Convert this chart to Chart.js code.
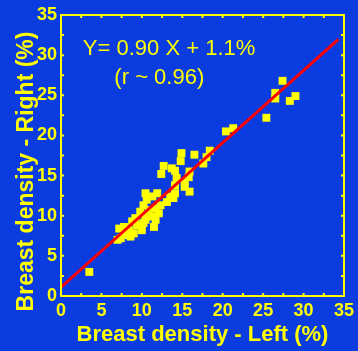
<!DOCTYPE html>
<html>
<head>
<meta charset="utf-8">
<script src="https://cdn.jsdelivr.net/npm/chart.js@4/dist/chart.umd.min.js"></script>
<style>
  html, body { margin: 0; padding: 0; background: #0b3ce0; }
  #wrap { width: 358px; height: 351px; }
</style>
</head>
<body>
<div id="wrap"><canvas id="c" width="358" height="351"></canvas></div>
<script>
// left vs right breast density (%)
var leftPct  = [3.5, 7.0, 7.4, 8.0, 8.6, 9.0, 8.4, 7.2, 7.8, 9.4, 8.8, 9.2, 10.2, 10.45, 11.5,
                9.8, 10.45, 11.3, 12.1, 10.85, 11.7, 10.2, 12.3, 10.6, 11.3, 10.45, 11.9, 13.1, 13.9,
                14.1, 13.5, 11.7, 10.0, 15.9, 15.3, 15.3, 14.3, 14.1, 12.4, 12.7, 13.7, 14.1, 14.8,
                14.9, 15.9, 15.8, 16.5, 17.6, 18.0, 18.4, 20.4, 21.3, 25.4, 26.5, 26.5, 27.4, 28.3, 29.0];
var rightPct = [3.0, 7.0, 7.2, 7.6, 7.4, 7.8, 8.2, 8.4, 8.6, 8.8, 9.3, 9.7, 9.1, 9.5, 8.6,
                10.5, 10.1, 9.9, 10.3, 10.7, 10.9, 11.3, 11.3, 12.0, 12.4, 12.8, 12.8, 11.7, 12.2,
                12.8, 12.4, 9.5, 8.2, 13.0, 13.6, 14.2, 14.7, 13.8, 15.2, 16.2, 15.9, 15.6, 16.8,
                17.8, 15.5, 14.8, 17.6, 16.5, 17.3, 18.1, 20.5, 20.9, 22.2, 24.6, 25.3, 26.8, 24.3, 24.9];

// fit: Y = 0.90 X + 1.1, drawn out to about x = 34.3
var fitX = [0, 34.3];
var fitSlope = 0.90, fitIcpt = 1.1;

var axisTicks = [0, 5, 10, 15, 20, 25, 30, 35];
var eqLines = ["Y= 0.90 X + 1.1%", "(r ~ 0.96)"];

var YEL = "#ffff00", RED = "#ff0000";
Chart.defaults.font.family = "'Liberation Sans', Arial, sans-serif";

var pts = [];
for (var i = 0; i < leftPct.length; i++) pts.push({ x: leftPct[i], y: rightPct[i] });
var fitPts = fitX.map(function(x) { return { x: x, y: fitSlope * x + fitIcpt }; });

// yellow frame + small inward ticks every 2.5 on all four sides
var frame = {
  id: "frame",
  afterDraw: function(chart) {
    var ctx = chart.ctx, a = chart.chartArea;
    var sx = chart.scales.x, sy = chart.scales.y;
    ctx.save();
    ctx.strokeStyle = YEL;
    ctx.lineWidth = 2;
    ctx.strokeRect(a.left, a.top, a.right - a.left, a.bottom - a.top);
    ctx.beginPath();
    for (var v = 2.5; v < 35; v += 2.5) {
      var px = sx.getPixelForValue(v), py = sy.getPixelForValue(v);
      ctx.moveTo(px, a.bottom); ctx.lineTo(px, a.bottom - 3);
      ctx.moveTo(px, a.top);    ctx.lineTo(px, a.top + 3);
      ctx.moveTo(a.left, py);   ctx.lineTo(a.left + 3, py);
      ctx.moveTo(a.right, py);  ctx.lineTo(a.right - 3, py);
    }
    ctx.stroke();
    ctx.restore();
  }
};

var eqText = {
  id: "eqText",
  afterDatasetsDraw: function(chart) {
    var ctx = chart.ctx, sx = chart.scales.x, sy = chart.scales.y;
    ctx.save();
    ctx.fillStyle = YEL;
    ctx.font = "22px 'Liberation Sans', Arial, sans-serif";
    ctx.textBaseline = "middle";
    ctx.fillText(eqLines[0], sx.getPixelForValue(2.7), sy.getPixelForValue(30.8));
    ctx.fillText(eqLines[1], sx.getPixelForValue(6.6), sy.getPixelForValue(27.1));
    ctx.restore();
  }
};

function axisOpts(titleTxt, isX) {
  return {
    type: "linear",
    min: 0, max: 35,
    afterBuildTicks: function(s) { s.ticks = axisTicks.map(function(v) { return { value: v }; }); },
    ticks: { color: YEL, font: { size: 18, weight: "bold" }, padding: 4, maxRotation: 0, autoSkip: false },
    grid: { display: false, drawTicks: false },
    border: { display: false },
    title: {
      display: true, text: titleTxt, color: YEL,
      font: { size: isX ? 22 : 23, weight: "bold" },
      padding: isX ? { top: 0, bottom: 3 } : { top: 13, bottom: 0 }
    },
    afterFit: function(s) { if (isX) s.height = 55; else s.width = 61; }
  };
}

new Chart(document.getElementById("c"), {
  data: {
    datasets: [
      { type: "line", data: fitPts, borderColor: RED, borderWidth: 3, pointRadius: 0, fill: false },
      { type: "scatter", data: pts, pointStyle: "rect", pointRadius: 5.6,
        backgroundColor: YEL, borderColor: YEL, borderWidth: 0 }
    ]
  },
  options: {
    responsive: false,
    devicePixelRatio: 1,
    animation: false,
    layout: { padding: { top: 15, right: 10, left: 0, bottom: 0 } },
    plugins: { legend: { display: false }, tooltip: { enabled: false } },
    scales: {
      x: axisOpts("Breast density - Left (%)", true),
      y: axisOpts("Breast density - Right (%)\u00a0\u00a0\u00a0\u00a0\u00a0", false)
    }
  },
  plugins: [frame, eqText]
});
</script>
</body>
</html>
